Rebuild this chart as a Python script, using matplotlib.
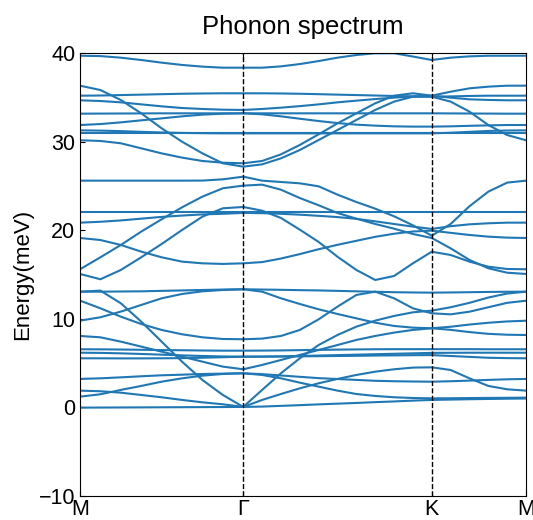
import numpy as np
import matplotlib
matplotlib.use("Agg")
import matplotlib.pyplot as plt

plt.rcParams['font.family'] = ['Liberation Sans', 'DejaVu Sans']

# High-symmetry path M - Gamma - K - M
kpath_labels = ['M', 'Γ', 'K', 'M']
seg_lengths = [0.5, 0.5774, 0.2887]
seg_points = [8, 10, 5]

# Phonon branches (meV) read at the sampled k-points along the path
U1 = [39.69, 39.65, 39.47, 39.21, 38.91, 38.65, 38.46, 38.34, 38.34, 38.34, 38.49, 38.75, 39.09, 39.47, 39.77, 39.97, 39.97, 39.60, 39.21, 39.47, 39.62, 39.69, 39.69, 39.69]
U2 = [36.31, 35.82, 34.69, 33.19, 31.50, 29.99, 28.67, 27.55, 27.17, 27.43, 28.11, 29.05, 30.18, 31.31, 32.44, 33.57, 34.51, 35.07, 35.07, 34.51, 33.38, 31.87, 30.74, 30.15]
U3 = [35.18, 35.20, 35.25, 35.30, 35.35, 35.40, 35.43, 35.45, 35.45, 35.45, 35.43, 35.40, 35.35, 35.30, 35.25, 35.20, 35.15, 35.10, 35.07, 35.10, 35.15, 35.18, 35.18, 35.18]
U4 = [34.66, 34.58, 34.43, 34.20, 33.98, 33.79, 33.68, 33.60, 33.57, 33.68, 33.83, 34.00, 34.20, 34.43, 34.62, 34.80, 34.96, 35.10, 35.18, 34.96, 34.77, 34.70, 34.66, 34.66]
U5 = [33.15, 33.16, 33.17, 33.18, 33.19, 33.19, 33.19, 33.19, 33.19, 33.19, 33.19, 33.19, 33.19, 33.19, 33.19, 33.19, 33.19, 33.19, 33.19, 33.18, 33.17, 33.16, 33.15, 33.15]
U6 = [31.87, 31.98, 32.17, 32.40, 32.62, 32.85, 33.04, 33.15, 33.19, 33.08, 32.85, 32.58, 32.32, 32.09, 31.91, 31.80, 31.72, 31.69, 31.69, 31.72, 31.78, 31.83, 31.87, 31.87]
U7 = [31.27, 31.24, 31.18, 31.10, 31.03, 30.98, 30.95, 30.93, 30.93, 30.93, 30.93, 30.93, 30.93, 30.93, 30.93, 30.93, 30.93, 30.93, 30.93, 31.00, 31.10, 31.20, 31.25, 31.27]
U8 = [30.93, 30.93, 30.93, 30.93, 30.93, 30.93, 30.93, 30.93, 30.93, 30.93, 30.93, 30.93, 30.93, 30.93, 30.93, 30.93, 30.93, 30.93, 30.93, 30.93, 30.93, 30.93, 30.93, 30.93]
U9 = [30.15, 30.07, 29.81, 29.24, 28.67, 28.19, 27.81, 27.62, 27.55, 27.81, 28.56, 29.62, 30.82, 32.06, 33.19, 34.32, 35.18, 35.45, 35.18, 35.63, 36.01, 36.20, 36.31, 36.31]

M1 = [25.59, 25.59, 25.59, 25.59, 25.59, 25.59, 25.60, 25.74, 26.04, 25.59, 25.44, 25.29, 24.95, 24.01, 23.18, 22.43, 21.57, 20.55, 19.38, 20.70, 22.70, 24.35, 25.37, 25.59]
M2 = [15.59, 16.94, 18.33, 19.84, 21.23, 22.58, 23.79, 24.73, 25.03, 25.14, 24.57, 23.63, 22.81, 21.94, 21.30, 20.70, 20.17, 19.57, 19.12, 17.95, 16.64, 15.70, 15.20, 15.06]
M3 = [15.06, 14.46, 15.51, 16.94, 18.44, 20.02, 21.53, 22.47, 22.62, 22.20, 21.38, 20.06, 18.67, 17.00, 15.51, 14.38, 14.83, 16.26, 17.57, 17.20, 16.45, 15.88, 15.62, 15.59]
M4 = [22.09, 22.09, 22.09, 22.09, 22.09, 22.09, 22.09, 22.09, 22.09, 22.09, 22.09, 22.09, 22.09, 22.09, 22.09, 22.09, 22.09, 22.09, 22.09, 22.09, 22.09, 22.09, 22.09, 22.09]
M5 = [20.85, 20.95, 21.10, 21.30, 21.50, 21.65, 21.78, 21.85, 21.95, 21.92, 21.85, 21.75, 21.62, 21.48, 21.28, 21.00, 20.70, 20.40, 20.14, 20.45, 20.66, 20.78, 20.85, 20.85]
M6 = [19.12, 18.89, 18.33, 17.58, 16.94, 16.45, 16.26, 16.19, 16.26, 16.40, 16.80, 17.30, 17.85, 18.35, 18.80, 19.25, 19.60, 19.85, 19.95, 19.70, 19.46, 19.27, 19.16, 19.12]

L1 = [13.06, 13.06, 13.08, 13.10, 13.15, 13.20, 13.25, 13.30, 13.33, 13.30, 13.27, 13.23, 13.20, 13.15, 13.10, 13.05, 13.00, 12.97, 12.95, 12.97, 13.00, 13.03, 13.05, 13.06]
L2 = [13.06, 13.18, 11.75, 9.68, 7.42, 5.16, 3.09, 1.40, 0.05, 1.97, 3.85, 5.54, 7.04, 8.17, 9.11, 9.79, 10.32, 10.73, 10.92, 11.30, 11.80, 12.40, 12.85, 13.06]
L3 = [12.05, 11.18, 10.24, 9.41, 8.74, 8.25, 7.91, 7.72, 7.69, 7.76, 8.06, 8.74, 9.94, 11.37, 12.69, 13.06, 12.31, 11.18, 10.62, 10.50, 10.80, 11.30, 11.80, 12.04]
L4 = [9.79, 10.17, 10.81, 11.56, 12.31, 12.80, 13.10, 13.25, 13.33, 13.06, 12.31, 11.67, 11.07, 10.54, 10.05, 9.56, 9.19, 9.00, 8.93, 9.10, 9.35, 9.55, 9.70, 9.78]
L5 = [8.06, 7.91, 7.42, 6.86, 6.29, 5.73, 5.16, 4.60, 4.30, 4.79, 5.35, 5.92, 6.48, 7.04, 7.61, 8.06, 8.44, 8.74, 8.93, 8.75, 8.50, 8.30, 8.20, 8.17]
L6 = [6.56, 6.55, 6.53, 6.50, 6.47, 6.45, 6.42, 6.40, 6.40, 6.41, 6.43, 6.46, 6.49, 6.52, 6.54, 6.56, 6.57, 6.57, 6.57, 6.57, 6.57, 6.56, 6.56, 6.56]
L7 = [6.17, 6.15, 6.10, 6.03, 5.95, 5.87, 5.80, 5.75, 5.72, 5.73, 5.76, 5.80, 5.85, 5.90, 5.95, 6.00, 6.05, 6.10, 6.15, 6.16, 6.17, 6.17, 6.17, 6.17]
L8 = [5.54, 5.54, 5.53, 5.53, 5.54, 5.56, 5.60, 5.66, 5.72, 5.73, 5.74, 5.76, 5.78, 5.80, 5.82, 5.85, 5.87, 5.89, 5.90, 5.80, 5.70, 5.60, 5.56, 5.54]
L9 = [3.21, 3.28, 3.39, 3.51, 3.62, 3.69, 3.77, 3.81, 3.85, 3.75, 3.60, 3.45, 3.30, 3.20, 3.10, 3.00, 2.95, 2.92, 2.90, 2.95, 3.02, 3.10, 3.17, 3.21]
L10 = [1.89, 1.82, 1.66, 1.40, 1.14, 0.84, 0.57, 0.35, 0.05, 0.84, 1.51, 2.15, 2.72, 3.21, 3.66, 4.03, 4.30, 4.49, 4.52, 4.22, 3.28, 2.42, 2.04, 1.89]
L11 = [1.21, 1.48, 1.97, 2.42, 2.90, 3.28, 3.58, 3.77, 3.85, 3.66, 3.28, 2.79, 2.34, 1.89, 1.51, 1.29, 1.14, 1.06, 1.02, 1.03, 1.05, 1.07, 1.08, 1.10]
L12 = [-0.03, -0.02, -0.01, 0.00, 0.01, 0.02, 0.03, 0.04, 0.05, 0.09, 0.17, 0.25, 0.34, 0.42, 0.50, 0.59, 0.67, 0.76, 0.84, 0.88, 0.92, 0.95, 0.98, 1.00]

bands = [U1, U2, U3, U4, U5, U6, U7, U8, U9,
         M1, M2, M3, M4, M5, M6,
         L1, L2, L3, L4, L5, L6, L7, L8, L9, L10, L11, L12]

# k-axis coordinates
nodes = np.concatenate([[0.0], np.cumsum(seg_lengths)])
k = [nodes[0]]
for a, b, n in zip(nodes[:-1], nodes[1:], seg_points):
    k.extend(np.linspace(a, b, n + 1)[1:])
k = np.array(k)

fig = plt.figure(figsize=(5.33, 5.2), dpi=100)
ax = fig.add_axes([0.1501, 0.0462, 0.8368, 0.8519])

for b in bands:
    ax.plot(k, b, color='#1f77b4', lw=1.5)

for x in nodes[1:-1]:
    ax.axvline(x, color='k', ls='--', lw=1.0)

ax.set_xlim(nodes[0], nodes[-1])
ax.set_ylim(-10, 40)
ax.set_xticks(nodes)
ax.set_xticklabels(kpath_labels)
ax.set_yticks([-10, 0, 10, 20, 30, 40])
ax.tick_params(axis='both', direction='in', labelsize=15.5)
ax.tick_params(axis='x', top=True, pad=2)
ax.set_ylabel('Energy(meV)', fontsize=16)
ax.set_title('Phonon spectrum', fontsize=18.5, pad=14)

fig.savefig('out.png', dpi=100)
